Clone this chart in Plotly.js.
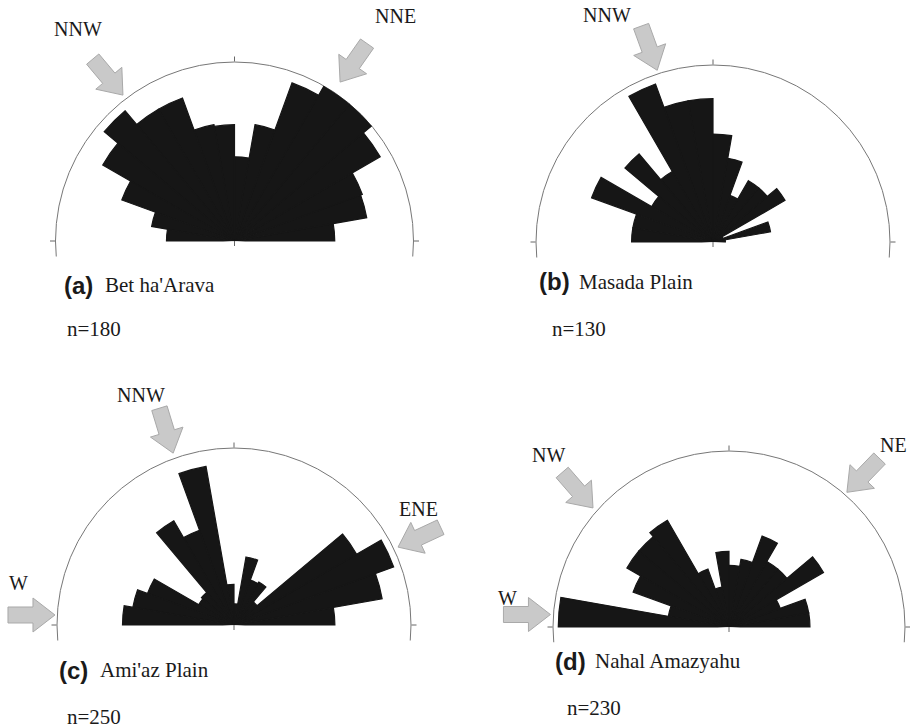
<!DOCTYPE html>
<html><head><meta charset="utf-8">
<script src="https://cdn.plot.ly/plotly-3.0.1.min.js"></script>
<style>html,body{margin:0;padding:0;background:#fff}#chart{width:910px;height:728px}</style>
</head><body><div id="chart"></div>
<script>
// ---- data (bin centres in degrees, 0 = east, counter-clockwise; values = % of outer circle) ----
const binCenters    = [5,15,25,35,45,55,65,75,85,95,105,115,125,135,145,155,165,175];
const betHaArava    = [56,75,76,94,103,103,94,66,47,65,66,85,85,95,85,67,47,38];
const masadaPlain   = [7,33,6,47,40,40,28,48,61,81,81,95,46,65,40,73,46,46];
const amiazPlain    = [57,85,96,80,17,28,27,39,12,23,91,57,68,24,23,52,58,63];
const nahalAmazyahu = [46,46,31,62,43,43,55,39,35,43,23,35,70,67,67,58,35,97];
const panelLetters  = ['(a)','(b)','(c)','(d)'];
const panelNames    = ["Bet ha'Arava", 'Masada Plain', "Ami'az Plain", 'Nahal Amazyahu'];
const sampleSizes   = [180,130,250,230];
const windLabels    = [['NNW','NNE'],['NNW'],['NNW','ENE','W'],['NW','NE','W']];

const series = [betHaArava, masadaPlain, amiazPlain, nahalAmazyahu];

// ---- layout configuration (pixels) ----
const W = 910, H = 728;
const panels = [
  {cx:234.5, cy:241, R:179, title:[62,103,285.5], n:[65,329]},
  {cx:713,   cy:242, R:177, title:[537,577,282],  n:[550,329]},
  {cx:234,   cy:625, R:177, title:[57,98,670],    n:[65,717]},
  {cx:729,   cy:627, R:176, title:[553,593,661],  n:[565,708]}
];
// arrow: tip angle (deg), tip radius factor, travel direction (deg), label centre px
const arrowCfg = [
  [{a:127.4,f:1.026,d:-50,lx:78,ly:29},{a:56.4,f:1.066,d:-125,lx:395,ly:16}],
  [{a:108,f:1.02,d:-70,lx:607,ly:15}],
  [{a:109.5,f:1.03,d:-73,lx:141,ly:395},{a:25.4,f:1.026,d:-155,lx:418,ly:509},{a:176.8,f:1.013,d:0,lx:18,ly:583}],
  [{a:138.8,f:1.027,d:-49,lx:548,ly:455},{a:48.8,f:1.017,d:-134,lx:893,ly:445},{a:176,f:1.017,d:0,lx:507,ly:598}]
];
const ext = 5; // arc extends beyond 0..180
const s = Math.sin(ext*Math.PI/180);
const px = x => x/W, py = y => 1 - y/H;

const data = [];
const layout = {
  width:W, height:H, margin:{l:0,r:0,t:0,b:0},
  paper_bgcolor:'#fff', plot_bgcolor:'rgba(0,0,0,0)', showlegend:false,
  annotations:[], shapes:[]
};
const serif = 'Liberation Serif, Times New Roman, serif';
const sans = 'Liberation Sans, Arial, sans-serif';

panels.forEach((p,i)=>{
  const key = i===0 ? 'polar' : 'polar'+(i+1);
  data.push({
    type:'barpolar', subplot:key,
    theta:binCenters, r:series[i], width:binCenters.map(()=>10),
    marker:{color:'#161616', line:{color:'#161616', width:1.2}},
    hoverinfo:'skip'
  });
  layout[key] = {
    domain:{x:[px(p.cx-p.R), px(p.cx+p.R)], y:[py(p.cy+s*p.R), py(p.cy-p.R)]},
    sector:[-ext, 180+ext],
    bgcolor:'rgba(0,0,0,0)',
    radialaxis:{visible:false, range:[0,100]},
    angularaxis:{rotation:0, direction:'counterclockwise', showgrid:false,
      showline:false,
      tickmode:'array', tickvals:[0,90,180], ticks:'outside', ticklen:5, tickcolor:'#666',
      showticklabels:false}
  };
  // outer reference circle (upper part kept, lower part masked)
  layout.shapes.push({type:'circle', xref:'paper', yref:'paper', layer:'below',
    x0:px(p.cx-p.R), x1:px(p.cx+p.R), y0:py(p.cy+p.R), y1:py(p.cy-p.R),
    line:{color:'#777', width:1}, fillcolor:'rgba(0,0,0,0)'});
  layout.shapes.push({type:'rect', xref:'paper', yref:'paper', layer:'below',
    x0:px(p.cx-p.R-4), x1:px(p.cx+p.R+4), y0:py(p.cy+s*p.R), y1:py(p.cy+p.R+4),
    line:{width:0}, fillcolor:'#ffffff'});
  // centre tick
  layout.shapes.push({type:'line', xref:'paper', yref:'paper',
    x0:px(p.cx), x1:px(p.cx), y0:py(p.cy), y1:py(p.cy+5), line:{color:'#666', width:1}});
  // panel labels
  layout.annotations.push({xref:'paper', yref:'paper', x:px(p.title[0]), y:py(p.title[2]),
    xanchor:'left', yanchor:'middle', showarrow:false, text:'<b>'+panelLetters[i]+'</b>',
    font:{family:sans, size:24, color:'#1a1a1a'}});
  layout.annotations.push({xref:'paper', yref:'paper', x:px(p.title[1]), y:py(p.title[2]),
    xanchor:'left', yanchor:'middle', showarrow:false, text:panelNames[i],
    font:{family:serif, size:21, color:'#1a1a1a'}});
  layout.annotations.push({xref:'paper', yref:'paper', x:px(p.n[0]), y:py(p.n[1]),
    xanchor:'left', yanchor:'middle', showarrow:false, text:'n='+sampleSizes[i],
    font:{family:serif, size:21, color:'#1a1a1a'}});
  // wind arrows
  arrowCfg[i].forEach((c,j)=>{
    const ta = c.a*Math.PI/180, rr = c.f*p.R;
    const tx = p.cx + rr*Math.cos(ta), ty = p.cy - rr*Math.sin(ta);
    const da = c.d*Math.PI/180;
    const ux = Math.cos(da), uy = -Math.sin(da);   // screen direction
    const vx = -uy, vy = ux;
    const L=47, Hh=22, HW=17, SW=8;
    const pts = [
      [tx - L*ux + SW*vx, ty - L*uy + SW*vy],
      [tx - Hh*ux + SW*vx, ty - Hh*uy + SW*vy],
      [tx - Hh*ux + HW*vx, ty - Hh*uy + HW*vy],
      [tx, ty],
      [tx - Hh*ux - HW*vx, ty - Hh*uy - HW*vy],
      [tx - Hh*ux - SW*vx, ty - Hh*uy - SW*vy],
      [tx - L*ux - SW*vx, ty - L*uy - SW*vy]
    ];
    const path = 'M' + pts.map(q=>px(q[0]).toFixed(5)+','+py(q[1]).toFixed(5)).join(' L') + ' Z';
    layout.shapes.push({type:'path', xref:'paper', yref:'paper', path:path,
      fillcolor:'#c9c9c9', line:{color:'#a9a9a9', width:1}});
    layout.annotations.push({xref:'paper', yref:'paper', x:px(c.lx), y:py(c.ly),
      xanchor:'center', yanchor:'middle', showarrow:false, text:windLabels[i][j],
      font:{family:serif, size:20, color:'#1a1a1a'}});
  });
});

Plotly.newPlot('chart', data, layout, {staticPlot:true, displayModeBar:false});
</script>
</body></html>
